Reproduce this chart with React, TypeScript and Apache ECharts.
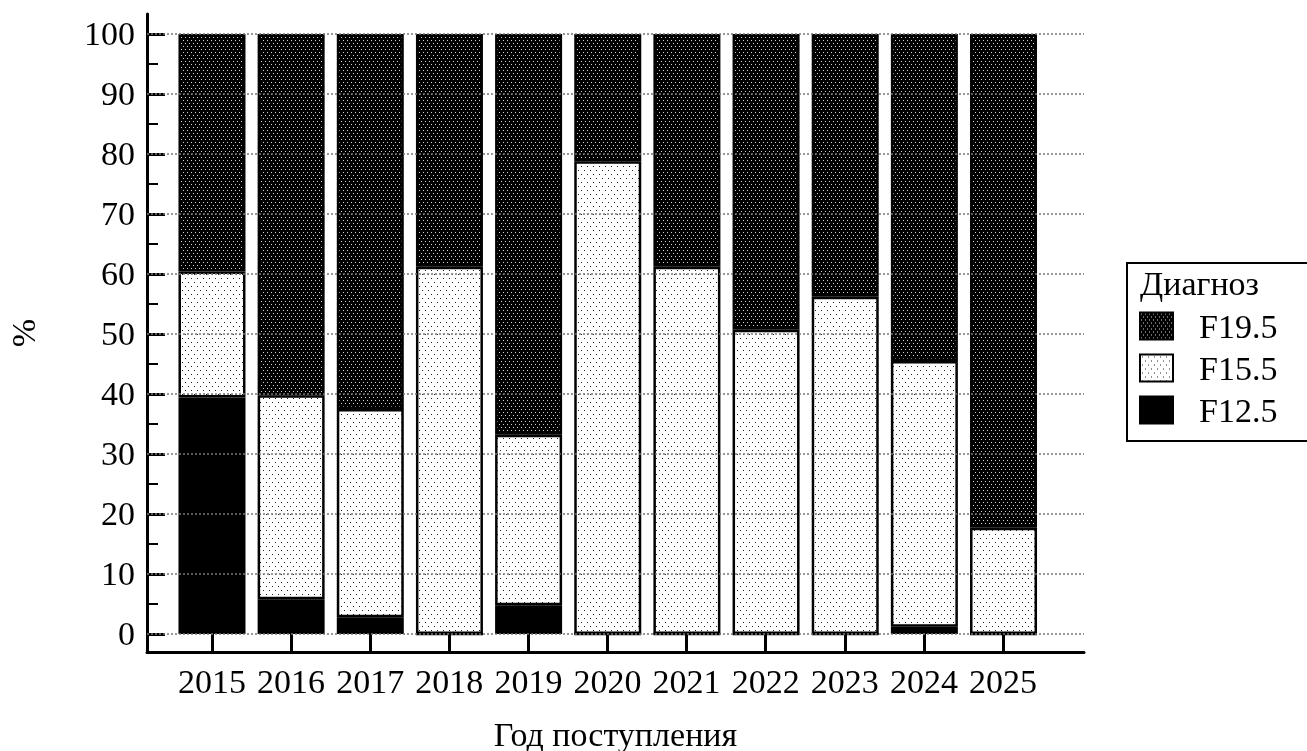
import React, { useEffect, useRef } from "react";
import * as echarts from "echarts";

const years = ["2015", "2016", "2017", "2018", "2019", "2020", "2021", "2022", "2023", "2024", "2025"];
const f125 = [39.4, 5.8, 2.8, 0, 4.8, 0, 0, 0, 0, 1.2, 0];
const f155 = [21.0, 34.0, 34.7, 61.2, 28.4, 78.8, 61.2, 50.7, 56.2, 44.3, 17.7];
const f195 = [39.6, 60.2, 62.5, 38.8, 66.8, 21.2, 38.8, 49.3, 43.8, 54.5, 82.3];
const majorTicks = [0, 10, 20, 30, 40, 50, 60, 70, 80, 90, 100];
const minorTicks = [5, 15, 25, 35, 45, 55, 65, 75, 85, 95];
const seriesNames = ["F19.5", "F15.5", "F12.5"];
const legendTitle = "Диагноз";
const xName = "Год поступления";
const yName = "%";

const FONT = "'Liberation Serif', 'Times New Roman', serif";
const Y_MIN = -3;
const Y_MAX = 103.33;

function makePattern(w: number, h: number, bg: string, dot: string, dots: number[][]): string {
  const c = document.createElement("canvas");
  c.width = w;
  c.height = h;
  const ctx = c.getContext("2d")!;
  ctx.fillStyle = bg;
  ctx.fillRect(0, 0, w, h);
  ctx.fillStyle = dot;
  dots.forEach(([x, y]) => ctx.fillRect(x, y, 1, 1));
  return c.toDataURL();
}

export default function App() {
  const ref = useRef<HTMLDivElement>(null);
  useEffect(() => {
    if (!ref.current) return;
    const chart = echarts.init(ref.current, undefined, { renderer: "svg" });
    const dark = makePattern(8, 6, "#000", "#d4d4d4", [[1, 1], [5, 1], [3, 4], [7, 4]]);
    const light = makePattern(12, 8, "#fff", "#222", [[2, 2], [8, 2], [5, 6], [11, 6]]);
    const border = { borderColor: "#000", borderWidth: 2.5 };
    const idx = years.map((_, i) => i);
    chart.setOption({
      animation: false,
      grid: [
        { left: 147, right: 223, top: 14, bottom: 99, outerBoundsMode: "none", containLabel: false },
        { left: 172.4, right: 263.9, top: 14, bottom: 99, outerBoundsMode: "none", containLabel: false },
      ],
      xAxis: [
        {
          gridIndex: 0,
          type: "value",
          min: -0.822,
          max: 11.024,
          axisLine: { show: true, onZero: false, lineStyle: { color: "#000", width: 3 } },
          axisTick: { show: true, inside: true, length: 18, customValues: idx, lineStyle: { color: "#000", width: 3 } },
          axisLabel: {
            customValues: idx,
            formatter: (v: number) => years[Math.round(v)] ?? "",
            color: "#000",
            fontFamily: FONT,
            fontSize: 34,
            margin: 12,
          },
          splitLine: { show: false },
          name: xName,
          nameLocation: "middle",
          nameGap: 65,
          nameTextStyle: { color: "#000", fontFamily: FONT, fontSize: 34 },
        },
        {
          gridIndex: 1,
          type: "category",
          data: years,
          show: false,
        },
      ],
      yAxis: [
        {
          gridIndex: 0,
          type: "value",
          min: Y_MIN,
          max: Y_MAX,
          axisLine: { show: true, onZero: false, lineStyle: { color: "#000", width: 3 } },
          axisTick: { show: true, inside: true, length: 18, customValues: majorTicks, lineStyle: { color: "#000", width: 3 } },
          axisLabel: { customValues: majorTicks, color: "#000", fontFamily: FONT, fontSize: 34, margin: 12 },
          splitLine: { show: false },
          name: yName,
          nameLocation: "middle",
          nameRotate: 90,
          nameGap: 107,
          nameTextStyle: { color: "#000", fontFamily: FONT, fontSize: 34 },
        },
        {
          gridIndex: 0,
          type: "value",
          position: "left",
          min: Y_MIN,
          max: Y_MAX,
          axisLine: { show: false, onZero: false },
          axisTick: { show: true, inside: true, length: 11, customValues: minorTicks, lineStyle: { color: "#000", width: 2 } },
          axisLabel: { show: false },
          splitLine: { show: false },
        },
        {
          gridIndex: 1,
          type: "value",
          min: Y_MIN,
          max: Y_MAX,
          show: false,
        },
      ],
      legend: {
        data: seriesNames,
        orient: "vertical",
        left: 1127,
        top: 263,
        icon: "rect",
        borderColor: "#000",
        borderWidth: 2,
        padding: [46, 40, 14, 12],
        itemWidth: 33,
        itemHeight: 27,
        itemGap: 8,
        textStyle: { color: "#000", fontFamily: FONT, fontSize: 34, lineHeight: 27, padding: [0, 0, 0, 21] },
      },
      graphic: [
        {
          type: "text",
          left: 1140,
          top: 266,
          style: { text: legendTitle, fill: "#000", font: `34px ${FONT}` },
        },
      ],
      series: [
        {
          type: "line",
          xAxisIndex: 0,
          yAxisIndex: 0,
          data: [],
          z: 1,
          silent: true,
          markLine: {
            silent: true,
            symbol: ["none", "none"],
            label: { show: false },
            lineStyle: { color: "#777", type: [2, 2], width: 1.5 },
            data: majorTicks.map((v) => ({ yAxis: v })),
          },
        },
        {
          name: "F12.5",
          type: "bar",
          stack: "s",
          xAxisIndex: 1,
          yAxisIndex: 2,
          barWidth: 67,
          z: 3,
          itemStyle: { color: "#000", ...border },
          data: f125,
        },
        {
          name: "F15.5",
          type: "bar",
          stack: "s",
          xAxisIndex: 1,
          yAxisIndex: 2,
          barWidth: 67,
          z: 3,
          itemStyle: { color: { image: light, repeat: "repeat" }, ...border },
          data: f155,
        },
        {
          name: "F19.5",
          type: "bar",
          stack: "s",
          xAxisIndex: 1,
          yAxisIndex: 2,
          barWidth: 67,
          z: 3,
          itemStyle: { color: { image: dark, repeat: "repeat" }, ...border },
          data: f195,
        },
      ],
    });
    return () => chart.dispose();
  }, []);
  return <div ref={ref} style={{ position: "fixed", left: 0, top: 0, width: 1307, height: 751 }} />;
}
